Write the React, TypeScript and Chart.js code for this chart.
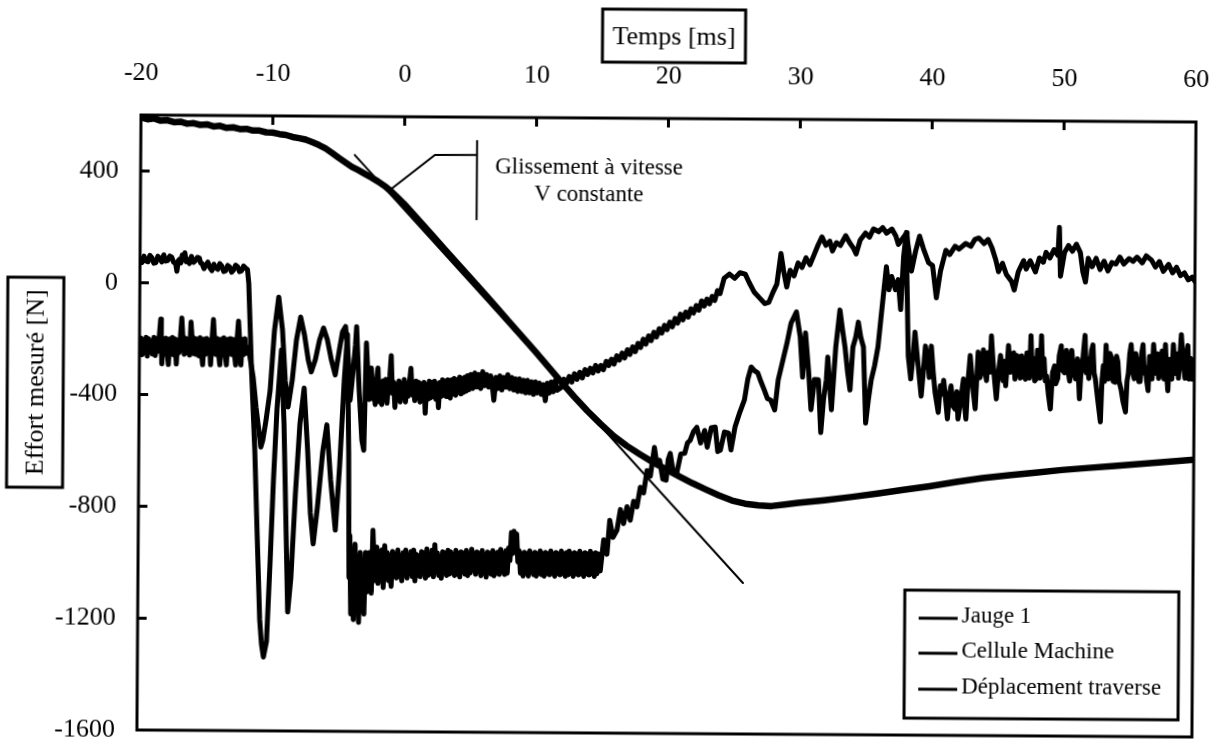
import React, { useEffect, useRef } from "react";
import { Chart, registerables } from "chart.js";

Chart.register(...registerables);

type Pt = [number, number];

const FAMILY = '"Liberation Serif", "Times New Roman", serif';

const X_MIN = -20;
const X_MAX = 60;
const X_STEP = 10;
const Y_MIN = -1600;
const Y_MAX = 600;
const Y_STEP = 400;
const Y_LAST_LABEL = 400;

const xTitle = "Temps [ms]";
const yTitle = "Effort mesuré [N]";
const seriesLabels = ["Jauge 1", "Cellule Machine", "Déplacement traverse"];
const noteLines = ["Glissement à vitesse", "V constante"];
// annotation anchors, in data units (ms, N)
const noteTextAt: Pt[] = [
  [14.0, 421],
  [14.0, 325],
];
const noteLeader: Pt[] = [
  [-1.08, 338],
  [2.31, 464],
  [5.5, 465],
];
const noteBracket: Pt[] = [
  [5.5, 518],
  [5.5, 232],
];
const tangentLine: Pt[] = [
  [-3.77, 462],
  [25.88, -1060],
];

// ---- Jauge 1 ----
const jaugeBefore: Pt[] = [
  [-20.0, -230], [-19.9, -198], [-19.8, -258], [-19.7, -205], [-19.6, -250], [-19.5, -195], [-19.4, -262], [-19.3, -200],
  [-19.2, -248], [-19.1, -210], [-19.0, -255], [-18.9, -195], [-18.8, -260], [-18.7, -200], [-18.6, -245], [-18.5, -190],
  [-18.4, -130], [-18.35, -200], [-18.3, -290], [-18.2, -205], [-18.1, -255], [-18.0, -198], [-17.9, -250], [-17.8, -292],
  [-17.7, -200], [-17.6, -252], [-17.5, -195], [-17.4, -258], [-17.3, -200], [-17.2, -290], [-17.1, -205], [-17.0, -250],
  [-16.9, -195], [-16.8, -125], [-16.7, -205], [-16.6, -255], [-16.5, -198], [-16.4, -250], [-16.3, -200], [-16.2, -258],
  [-16.1, -140], [-16.0, -205], [-15.9, -252], [-15.8, -198], [-15.7, -255], [-15.6, -200], [-15.5, -260], [-15.4, -195],
  [-15.3, -250], [-15.2, -292], [-15.1, -200], [-15.0, -255], [-14.9, -198], [-14.8, -250], [-14.7, -205], [-14.6, -292],
  [-14.5, -200], [-14.4, -130], [-14.3, -210], [-14.2, -255], [-14.1, -198], [-14.0, -250], [-13.9, -292], [-13.8, -200],
  [-13.7, -255], [-13.6, -195], [-13.5, -258], [-13.4, -292], [-13.3, -200], [-13.2, -250], [-13.1, -198], [-13.0, -255],
  [-12.9, -200], [-12.8, -250], [-12.7, -292], [-12.6, -200], [-12.5, -135], [-12.4, -210], [-12.3, -292], [-12.2, -200],
  [-12.1, -255], [-12.0, -198], [-11.9, -250], [-11.85, -230],
];
const jaugeShock: Pt[] = [
  [-11.74, -229], [-11.36, -336], [-11.13, -442], [-10.75, -585], [-10.6, -560], [-10.37, -490], [-10.07, -383],
  [-9.77, -168], [-9.46, -48], [-9.16, -166], [-8.93, -345], [-8.7, -441], [-8.4, -345], [-8.1, -202], [-7.79, -119],
  [-7.49, -183], [-7.19, -273], [-6.96, -315], [-6.66, -272], [-6.35, -201], [-6.05, -158], [-5.75, -200], [-5.44, -272],
  [-5.14, -325], [-4.84, -236], [-4.61, -171], [-4.38, -152], [-4.15, -272], [-4.0, -415], [-3.85, -343], [-3.62, -218],
  [-3.54, -152], [-3.32, -379], [-3.09, -558], [-2.94, -594], [-2.79, -210], [-2.56, -412],
];
const jaugeSlide: Pt[] = [
  [-2.4, -300], [-2.3, -410], [-2.2, -350], [-2.1, -430], [-2.0, -340], [-1.9, -300], [-1.8, -420], [-1.7, -350],
  [-1.6, -430], [-1.5, -345], [-1.4, -410], [-1.3, -340], [-1.2, -425], [-1.1, -350], [-1.0, -330], [-0.9, -255],
  [-0.8, -390], [-0.7, -350], [-0.6, -440], [-0.5, -360], [-0.4, -410], [-0.3, -345], [-0.2, -420], [-0.1, -355],
  [0.0, -405], [0.1, -340], [0.2, -420], [0.3, -355], [0.4, -400], [0.5, -345], [0.6, -300], [0.7, -395],
  [0.8, -350], [0.9, -415], [1.0, -345], [1.1, -405], [1.2, -350], [1.3, -420], [1.4, -355], [1.5, -400],
  [1.6, -350], [1.7, -460], [1.8, -360], [1.9, -410], [2.0, -345], [2.1, -405], [2.2, -350], [2.3, -400],
  [2.4, -345], [2.5, -410], [2.6, -355], [2.7, -440], [2.8, -350], [2.9, -400], [3.0, -340], [3.1, -395],
  [3.2, -345], [3.3, -400], [3.4, -340], [3.5, -395], [3.6, -405], [3.7, -340], [3.8, -390], [3.9, -335],
  [4.0, -395], [4.1, -340], [4.2, -385], [4.3, -330], [4.4, -390], [4.5, -335], [4.6, -385], [4.7, -330],
  [4.8, -380], [4.9, -325], [5.0, -375], [5.15, -320], [5.3, -370], [5.45, -315], [5.6, -365], [5.75, -320],
  [5.9, -370], [6.05, -310], [6.2, -360], [6.35, -320], [6.5, -365], [6.65, -325], [6.8, -370], [6.9, -412],
  [7.05, -330], [7.2, -370], [7.35, -325], [7.5, -375], [7.65, -330], [7.8, -365], [7.95, -320], [8.1, -370],
  [8.25, -330], [8.4, -375], [8.55, -335], [8.7, -380], [8.85, -335], [9.0, -380], [9.15, -340], [9.3, -385],
  [9.45, -340], [9.6, -385], [9.75, -345], [9.9, -390], [10.05, -345], [10.2, -385], [10.35, -350], [10.5, -390],
  [10.65, -355], [10.8, -412], [10.95, -350], [11.1, -385], [11.25, -345], [11.4, -380], [11.55, -340], [11.7, -375],
  [12.0, -365], [12.2, -335], [12.4, -350], [12.6, -325], [12.8, -345], [13.0, -315], [13.2, -335], [13.4, -310],
  [13.6, -330], [13.8, -300], [14.0, -318], [14.2, -295], [14.4, -312], [14.6, -285], [14.8, -305], [15.0, -285],
  [15.2, -300], [15.4, -270], [15.6, -285], [15.8, -262], [16.0, -280], [16.2, -250], [16.4, -265], [16.6, -240],
  [16.8, -258], [17.0, -228], [17.2, -245], [17.4, -218], [17.6, -235], [17.8, -205], [18.0, -220], [18.2, -190],
  [18.4, -208], [18.6, -178], [18.8, -195], [19.0, -165], [19.2, -182], [19.4, -152], [19.6, -168], [19.8, -140],
  [20.0, -155], [20.2, -128], [20.4, -145], [20.6, -115], [20.8, -132], [21.0, -100], [21.2, -120], [21.4, -92],
  [21.6, -110], [21.8, -80], [22.0, -95], [22.2, -68], [22.4, -85], [22.6, -52], [22.8, -70], [23.0, -45],
  [23.2, -62], [23.4, -35], [23.6, -50], [23.8, -15], [24.0, -25],
];
const jaugeLate: Pt[] = [
  [24.3, 30], [24.7, 45], [25.1, 30], [25.5, 50], [25.9, 45], [26.2, 15], [26.6, -20], [27.0, -40], [27.4, -60],
  [27.7, -55], [28.0, -20], [28.3, 10], [28.6, 120], [28.8, 60], [29.05, 0], [29.3, 60], [29.6, 40], [29.9, 86],
  [30.2, 70], [30.5, 105], [30.8, 80], [31.1, 115], [31.4, 150], [31.7, 180], [32.0, 150], [32.3, 165], [32.5, 130],
  [32.8, 160], [33.1, 150], [33.5, 185], [33.8, 160], [34.1, 140], [34.3, 120], [34.6, 170], [35.0, 195], [35.3, 180],
  [35.6, 210], [36.0, 200], [36.3, 215], [36.6, 195], [37.0, 210], [37.3, 185], [37.5, 155], [37.8, 175], [38.1, 195],
  [38.3, 130], [38.5, 60], [38.8, 130], [39.1, 185], [39.4, 140], [39.8, 90], [40.1, 80], [40.4, -35], [40.7, 60],
  [41.1, 135], [41.4, 120], [41.8, 150], [42.1, 140], [42.6, 160], [43.0, 150], [43.3, 175], [43.6, 180], [44.0, 160],
  [44.3, 175], [44.6, 145], [44.9, 100], [45.1, 60], [45.4, 90], [45.7, 50], [46.1, 25], [46.3, -5], [46.6, 60],
  [47.0, 100], [47.2, 70], [47.5, 100], [47.9, 60], [48.2, 110], [48.5, 95], [48.7, 130], [49.0, 110], [49.3, 140],
  [49.6, 120], [49.7, 220], [49.8, 45], [50.1, 130], [50.4, 155], [50.7, 135], [51.0, 160], [51.3, 130], [51.5, 60],
  [51.7, 25], [51.9, 110], [52.2, 80], [52.5, 110], [52.8, 70], [53.1, 100], [53.4, 65], [53.7, 95], [54.0, 90],
  [54.3, 115], [54.6, 90], [55.0, 110], [55.3, 100], [55.6, 115], [56.0, 95], [56.3, 120], [56.7, 105], [57.0, 80],
  [57.3, 100], [57.6, 65], [58.0, 90], [58.3, 60], [58.6, 80], [58.9, 50], [59.2, 60], [59.5, 35], [59.8, 45], [60.0, 30],
];

// ---- Cellule Machine ----
const celluleBefore: Pt[] = [
  [-20, 85], [-19.85, 72], [-19.7, 95], [-19.55, 78], [-19.4, 75], [-19.25, 98], [-19.1, 90], [-18.95, 70], [-18.8, 72],
  [-18.65, 95], [-18.5, 88], [-18.35, 75], [-18.2, 100], [-18.05, 78], [-17.9, 80], [-17.75, 96], [-17.6, 92],
  [-17.45, 74], [-17.3, 70], [-17.2, 42], [-17.1, 80], [-17.0, 85], [-16.9, 72], [-16.8, 100], [-16.7, 82],
  [-16.6, 108], [-16.5, 76], [-16.4, 85], [-16.25, 70], [-16.1, 95], [-15.95, 74], [-15.8, 80], [-15.65, 92],
  [-15.5, 90], [-15.4, 72], [-15.3, 70], [-15.15, 52], [-15.0, 65], [-14.85, 75], [-14.7, 55], [-14.55, 45],
  [-14.4, 68], [-14.25, 55], [-14.1, 50], [-13.95, 70], [-13.8, 62], [-13.65, 42], [-13.5, 45], [-13.35, 64],
  [-13.2, 58], [-13.05, 40], [-12.9, 48], [-12.75, 65], [-12.6, 60], [-12.45, 42], [-12.3, 45], [-12.15, 62],
  [-12.0, 55], [-11.85, 50],
];
const celluleShock: Pt[] = [
  [-11.74, 0], [-11.5, -300], [-11.2, -600], [-10.98, -900], [-10.75, -1200], [-10.6, -1290], [-10.45, -1336],
  [-10.22, -1280], [-9.99, -1000], [-9.77, -700], [-9.54, -450], [-9.23, -237], [-9.0, -500], [-8.78, -900],
  [-8.63, -1174], [-8.4, -1050], [-8.1, -750], [-7.79, -500], [-7.49, -373], [-7.19, -600], [-6.96, -820],
  [-6.73, -930], [-6.43, -800], [-6.05, -600], [-5.75, -504], [-5.44, -700], [-5.06, -880], [-4.76, -650],
  [-4.46, -350], [-4.23, -180], [-4.08, -600], [-4.0, -1050],
];
const celluleFlat: Pt[] = [
  [-3.95, -900], [-3.85, -1180], [-3.75, -950], [-3.65, -1200], [-3.55, -930], [-3.45, -1150], [-3.35, -1000],
  [-3.25, -1210], [-3.15, -960], [-3.05, -1120], [-2.95, -990], [-2.85, -1180], [-2.75, -960], [-2.6, -1100],
  [-2.45, -960], [-2.3, -1105], [-2.2, -880], [-2.05, -1060],
  [-1.9, -940], [-1.8, -1070], [-1.7, -955], [-1.6, -1040], [-1.5, -950], [-1.4, -1085], [-1.3, -935], [-1.2, -1050],
  [-1.1, -960], [-1.0, -1060], [-0.9, -970], [-0.8, -1080], [-0.7, -955], [-0.6, -1040], [-0.5, -965], [-0.4, -1050],
  [-0.3, -950], [-0.2, -1045], [-0.1, -970], [0.0, -1060], [0.1, -960], [0.2, -1035], [0.3, -950], [0.4, -1050],
  [0.5, -975], [0.6, -1030], [0.7, -955], [0.8, -1045], [0.9, -950], [1.0, -1060], [1.1, -965], [1.2, -1040],
  [1.3, -970], [1.4, -1045], [1.5, -955], [1.6, -1030], [1.7, -960], [1.8, -1050], [1.9, -945], [2.0, -1040],
  [2.1, -965], [2.2, -1035], [2.3, -950], [2.4, -1045], [2.5, -930], [2.6, -1020], [2.7, -960], [2.8, -1040],
  [2.9, -975], [3.0, -1050], [3.1, -955], [3.2, -1030], [3.3, -960], [3.4, -1040], [3.5, -950], [3.6, -1035],
  [3.7, -955], [3.8, -1030], [3.9, -965], [4.0, -1040], [4.1, -950], [4.2, -1035], [4.3, -960], [4.4, -1045],
  [4.5, -955], [4.6, -1025], [4.7, -960], [4.8, -1035], [4.9, -950], [5.0, -1040], [5.1, -965], [5.2, -1030],
  [5.3, -945], [5.4, -1020], [5.5, -960], [5.6, -1035], [5.7, -955], [5.8, -1025], [5.9, -960], [6.0, -1040],
  [6.1, -950], [6.2, -1030], [6.3, -965], [6.4, -1045], [6.5, -955], [6.6, -1030], [6.7, -960], [6.8, -1035],
  [6.9, -950], [7.0, -1040], [7.1, -960], [7.2, -1030], [7.3, -955], [7.4, -1035], [7.5, -945], [7.6, -1025],
  [7.7, -960], [7.8, -1035], [7.9, -950], [8.0, -1030], [8.1, -940], [8.2, -985], [8.3, -885], [8.4, -960],
  [8.5, -880], [8.6, -950], [8.7, -890], [8.8, -990], [8.9, -950], [9.0, -1030], [9.1, -960], [9.2, -1040],
  [9.3, -955], [9.4, -1030], [9.5, -960], [9.6, -1040], [9.7, -950], [9.8, -1025], [9.9, -960], [10.0, -1035],
  [10.1, -955], [10.2, -1040], [10.3, -960], [10.4, -1030], [10.5, -950], [10.6, -1035], [10.7, -960], [10.8, -1040],
  [10.9, -955], [11.0, -1030], [11.1, -960], [11.2, -1035], [11.3, -950], [11.4, -1030], [11.5, -960], [11.6, -1040],
  [11.7, -955], [11.8, -1030], [11.9, -960], [12.0, -1035], [12.1, -950], [12.2, -1030], [12.3, -960], [12.4, -1040],
  [12.5, -955], [12.6, -1035], [12.7, -950], [12.8, -1030], [12.9, -960], [13.0, -1040], [13.1, -955], [13.2, -1030],
  [13.3, -960], [13.4, -1035], [13.5, -950], [13.6, -1030], [13.7, -960], [13.8, -1040], [13.9, -955], [14.0, -1030],
  [14.1, -960], [14.2, -1035], [14.3, -950], [14.4, -1030], [14.5, -960], [14.6, -1040], [14.7, -955], [14.8, -1030],
  [14.9, -960], [15.05, -1020],
];
const celluleRise: Pt[] = [
  [15.3, -909], [15.55, -960], [15.75, -839], [16.0, -900], [16.3, -874], [16.55, -800], [16.8, -850], [17.05, -790],
  [17.3, -838], [17.55, -770], [17.8, -790], [18.05, -720], [18.3, -740], [18.55, -660], [18.8, -680], [19.1, -577],
  [19.3, -640], [19.5, -623], [19.75, -690], [20.0, -694], [20.15, -620], [20.3, -598], [20.55, -670], [20.8, -669],
  [21.1, -600], [21.4, -597], [21.6, -560], [21.8, -551], [22.05, -520], [22.3, -504], [22.6, -560], [22.9, -515],
  [23.1, -575], [23.4, -505], [23.7, -503], [23.9, -590], [24.1, -585], [24.4, -520], [24.7, -524], [24.9, -584],
  [25.2, -502], [25.55, -450], [25.9, -405], [26.15, -330], [26.4, -287], [26.65, -300], [26.9, -308], [27.15, -340],
  [27.4, -369], [27.65, -400], [27.9, -405], [28.2, -440], [28.45, -333], [28.8, -261], [29.1, -200], [29.4, -129],
  [29.8, -89],
];
const celluleLate: Pt[] = [
  [30.1, -178], [30.3, -322], [30.5, -164], [30.75, -300], [30.95, -438], [31.2, -330], [31.5, -331], [31.7, -520],
  [31.9, -400], [32.1, -331], [32.2, -250], [32.5, -438], [32.8, -214], [33.1, -81], [33.3, -150], [33.5, -213],
  [33.7, -300], [33.9, -367], [34.1, -213], [34.3, -180], [34.5, -124], [34.7, -180], [34.9, -213], [35.1, -485],
  [35.3, -400], [35.5, -331], [35.75, -280], [36.0, -212], [36.25, -90], [36.6, 75], [36.8, -7], [37.0, 40],
  [37.3, -7], [37.5, 29], [37.7, -78], [37.9, 112], [38.1, 198], [38.15, 66], [38.3, -244], [38.5, -326],
  [38.65, -250], [38.8, -158], [38.95, -230], [39.06, -280], [39.3, -387], [39.45, -300], [39.6, -208], [39.8, -260],
  [39.9, -320], [40.05, -208], [40.2, -300], [40.35, -373], [40.6, -445], [40.75, -350], [40.85, -380], [41.0, -330],
  [41.1, -372], [41.3, -468], [41.45, -380], [41.56, -350], [41.7, -420], [41.87, -432], [42.0, -370], [42.1, -468],
  [42.3, -400], [42.5, -325], [42.6, -420], [42.7, -468], [42.85, -330], [43.0, -241], [43.2, -350], [43.4, -431],
  [43.5, -330], [43.6, -228], [43.75, -320], [43.85, -300], [44.0, -220], [44.1, -289], [44.25, -330], [44.35, -230],
  [44.5, -300], [44.6, -170], [44.7, -240], [44.8, -300], [45.0, -395], [45.15, -300], [45.3, -240], [45.5, -330],
  [45.6, -260], [45.7, -348], [45.8, -280], [45.9, -204], [46.05, -300], [46.15, -280], [46.3, -230], [46.4, -324],
  [46.55, -240], [46.65, -250], [46.8, -320], [46.9, -241], [47.05, -310], [47.2, -324], [47.3, -230], [47.4, -250],
  [47.5, -320], [47.6, -168], [47.7, -300], [47.8, -250], [47.9, -330], [48.0, -324], [48.1, -220], [48.2, -240],
  [48.3, -320], [48.4, -168], [48.5, -300], [48.6, -250], [48.7, -330], [48.8, -312], [48.95, -380], [49.1, -430],
  [49.25, -300], [49.4, -276], [49.5, -340], [49.65, -320], [49.75, -240], [49.9, -204], [50.0, -290], [50.15, -300],
  [50.3, -220], [50.4, -286], [50.55, -330], [50.7, -220], [50.85, -300], [51.0, -322], [51.15, -250], [51.3, -393],
  [51.4, -300], [51.5, -280], [51.6, -220], [51.7, -166], [51.8, -300], [51.9, -250], [52.0, -320], [52.1, -275],
  [52.2, -220], [52.3, -200], [52.4, -300], [52.5, -321], [52.7, -400], [52.9, -475], [53.0, -330], [53.1, -274],
  [53.2, -330], [53.3, -200], [53.4, -300], [53.5, -321], [53.6, -230], [53.75, -250], [53.85, -330], [54.0, -333],
  [54.1, -240], [54.2, -260], [54.3, -330], [54.45, -357], [54.6, -400], [54.8, -439], [54.9, -330], [55.0, -300],
  [55.1, -230], [55.2, -198], [55.35, -300], [55.45, -320], [55.55, -230], [55.7, -270], [55.8, -330], [55.9, -330],
  [56.0, -230], [56.1, -198], [56.2, -300], [56.3, -280], [56.4, -330], [56.5, -362], [56.6, -240], [56.7, -280],
  [56.8, -320], [56.9, -197], [57.0, -260], [57.1, -300], [57.2, -230], [57.3, -318], [57.45, -260], [57.55, -220],
  [57.7, -320], [57.8, -197], [57.9, -300], [58.0, -362], [58.1, -250], [58.2, -280], [58.3, -320], [58.4, -197],
  [58.5, -260], [58.6, -300], [58.7, -230], [58.8, -317], [58.9, -240], [59.0, -161], [59.15, -260], [59.3, -317],
  [59.4, -230], [59.5, -200], [59.6, -320], [59.7, -245], [59.85, -320], [60.0, -250],
];

// ---- Déplacement traverse ----
const deplacement: Pt[] = [
  [-20, 592], [-19.5, 585], [-19, 588], [-18.5, 580], [-18, 582], [-17.5, 575], [-17, 577], [-16.5, 570], [-16, 572],
  [-15.5, 566], [-15, 568], [-14.5, 561], [-14, 563], [-13.5, 556], [-13, 558], [-12.5, 552], [-12, 553], [-11.5, 547],
  [-11, 547], [-10.5, 541], [-10, 540], [-9.5, 535], [-9, 532], [-8.5, 525], [-8, 521], [-7.5, 516], [-7, 507],
  [-6.5, 497], [-6, 485], [-5.5, 469], [-5, 452], [-4.5, 436], [-4, 420], [-3.5, 408], [-3, 395], [-2.5, 382],
  [-2, 368], [-1.5, 352], [-1, 333], [-0.5, 311], [0, 288], [1, 236], [2, 184], [3, 132], [4, 80], [5, 28], [6, -24],
  [7, -77], [8, -130], [9, -183], [10, -236], [11, -290], [12, -345], [13, -398], [14, -448], [15, -494], [16, -537],
  [17, -572], [18, -602], [19, -630], [20, -655], [21, -680], [22, -704], [23, -726], [24, -747], [25, -765],
  [26, -776], [27, -782], [28, -784], [29, -778], [30, -772], [32, -762], [34, -750], [36, -737], [38, -723],
  [40, -709], [42, -693], [44, -679], [46, -668], [48, -658], [50, -648], [52, -640], [54, -632], [56, -624],
  [58, -616], [60, -608],
];

const toData = (pts: Pt[]) => pts.map(([x, y]) => ({ x, y }));

const decorPlugin = {
  id: "decor",
  afterDraw(chart: any) {
    const { ctx, chartArea: a } = chart;
    const xs = chart.scales.x;
    const ys = chart.scales.y;
    const px = (v: number) => xs.getPixelForValue(v);
    const py = (v: number) => ys.getPixelForValue(v);
    ctx.save();
    ctx.strokeStyle = "#000";
    ctx.fillStyle = "#000";
    ctx.lineCap = "butt";

    // frame
    ctx.lineWidth = 3;
    ctx.strokeRect(a.left, a.top, a.right - a.left, a.bottom - a.top);

    // inner tick marks
    ctx.beginPath();
    for (const t of xs.ticks) {
      const X = px(t.value);
      if (X > a.left + 3 && X < a.right - 3) {
        ctx.moveTo(X, a.top);
        ctx.lineTo(X, a.top + 9);
      }
    }
    for (const t of ys.ticks) {
      const Y = py(t.value);
      if (Y > a.top + 3 && Y < a.bottom - 3) {
        ctx.moveTo(a.left, Y);
        ctx.lineTo(a.left + 9, Y);
      }
    }
    ctx.stroke();

    // annotation leader + bracket
    ctx.lineWidth = 2;
    ctx.beginPath();
    noteLeader.forEach(([x, y], i) => (i ? ctx.lineTo(px(x), py(y)) : ctx.moveTo(px(x), py(y))));
    ctx.stroke();
    ctx.beginPath();
    ctx.moveTo(px(noteBracket[0][0]), py(noteBracket[0][1]));
    ctx.lineTo(px(noteBracket[1][0]), py(noteBracket[1][1]));
    ctx.stroke();
    ctx.font = `23px ${FAMILY}`;
    ctx.textAlign = "center";
    ctx.textBaseline = "middle";
    noteLines.forEach((s, i) => ctx.fillText(s, px(noteTextAt[i][0]), py(noteTextAt[i][1])));

    // x title (boxed)
    ctx.font = `26px ${FAMILY}`;
    ctx.lineWidth = 3;
    ctx.strokeRect(602, 6, 143, 53);
    ctx.fillText(xTitle, 673.5, 34);

    // y title (boxed, rotated)
    ctx.strokeRect(9, 278, 56, 210);
    ctx.save();
    ctx.translate(38, 383);
    ctx.rotate(-Math.PI / 2);
    ctx.fillText(yTitle, 0, 0);
    ctx.restore();

    // legend
    const bx = a.right - 288;
    const by = a.bottom - 145;
    ctx.lineWidth = 3;
    ctx.strokeRect(bx, by, 274, 128);
    ctx.font = `23px ${FAMILY}`;
    ctx.textAlign = "left";
    const rows = [28, 63, 99];
    seriesLabels.forEach((lab, i) => {
      const ry = by + rows[i];
      ctx.lineWidth = 3;
      ctx.beginPath();
      ctx.moveTo(bx + 14, ry);
      ctx.lineTo(bx + 53, ry);
      ctx.stroke();
      ctx.fillText(lab, bx + 57, ry - 2);
    });
    ctx.restore();
  },
};

export default function App() {
  const ref = useRef<HTMLCanvasElement>(null);
  useEffect(() => {
    const canvas = ref.current;
    if (!canvas) return;
    const line = (label: string, pts: Pt[], width: number) => ({
      label,
      data: toData(pts),
      borderColor: "#000",
      backgroundColor: "#000",
      borderWidth: width,
      borderJoinStyle: "round" as const,
      borderCapStyle: "round" as const,
      pointRadius: 0,
      tension: 0,
      fill: false,
    });
    const chart = new Chart(canvas, {
      type: "line",
      data: {
        datasets: [
          line(seriesLabels[0], [...jaugeBefore, ...jaugeShock, ...jaugeSlide, ...jaugeLate], 5),
          line(seriesLabels[1], [...celluleBefore, ...celluleShock, ...celluleFlat, ...celluleRise, ...celluleLate], 5),
          line(seriesLabels[2], deplacement, 6.5),
          line("tangente", tangentLine, 2),
        ],
      },
      options: {
        responsive: false,
        maintainAspectRatio: false,
        animation: false,
        events: [],
        layout: { padding: { left: 0, top: 0, right: 28, bottom: 11 } },
        plugins: { legend: { display: false }, tooltip: { enabled: false } },
        scales: {
          x: {
            type: "linear",
            position: "top",
            min: X_MIN,
            max: X_MAX,
            afterFit: (s: any) => {
              s.height = 115;
              s.paddingLeft = 0;
              s.paddingRight = 0;
            },
            ticks: {
              stepSize: X_STEP,
              autoSkip: false,
              maxRotation: 0,
              color: "#000",
              font: { family: FAMILY, size: 26 },
              padding: 26,
              callback: (v: any) => String(v),
            },
            grid: { display: false, drawTicks: false },
            border: { display: false },
          },
          y: {
            type: "linear",
            min: Y_MIN,
            max: Y_MAX,
            afterBuildTicks: (s: any) => {
              s.ticks = s.ticks.filter((t: any) => t.value <= Y_LAST_LABEL);
            },
            afterFit: (s: any) => {
              s.width = 141;
              s.paddingTop = 0;
              s.paddingBottom = 0;
            },
            ticks: {
              stepSize: Y_STEP,
              color: "#000",
              font: { family: FAMILY, size: 26 },
              padding: 22,
              callback: (v: any) => String(v),
            },
            grid: { display: false, drawTicks: false },
            border: { display: false },
          },
        },
      },
      plugins: [decorPlugin],
    });
    return () => chart.destroy();
  }, []);

  return (
    <div style={{ position: "absolute", left: 0, top: 0, width: 1224, height: 741, overflow: "hidden", background: "#fff" }}>
      <div style={{ position: "absolute", left: 0, top: 0, width: 1224, height: 741, transform: "rotate(0.38deg)", transformOrigin: "141px 115px" }}>
        <canvas ref={ref} width={1224} height={741} style={{ display: "block" }} />
      </div>
    </div>
  );
}
